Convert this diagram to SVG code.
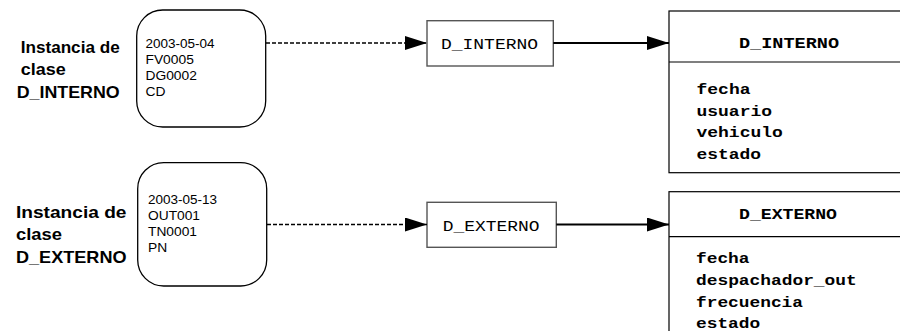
<svg xmlns="http://www.w3.org/2000/svg" width="900" height="331" viewBox="0 0 900 331">
<style>
.lbl{font-family:"Liberation Sans",Arial,sans-serif;font-weight:bold;font-size:16.5px;fill:#000}
.val{font-family:"Liberation Sans",Arial,sans-serif;font-size:12.5px;fill:#000}
.mono{font-family:"Liberation Mono","Courier New",monospace;font-size:15px;fill:#000}
.monob{font-family:"Liberation Mono","Courier New",monospace;font-size:15px;font-weight:bold;fill:#000}
.inst{fill:#fff;stroke:#000;stroke-width:1.3}
.obj{fill:#fff;stroke:#555;stroke-width:1.4}
.cls{fill:#fff;stroke:#000;stroke-width:1.2}
.dash{stroke:#000;stroke-width:1.4;stroke-dasharray:4 2;fill:none}
.solid{stroke:#000;stroke-width:1.8;fill:none}
</style>
<defs>
<marker id="arr" markerUnits="userSpaceOnUse" markerWidth="22" markerHeight="14" refX="22" refY="7" orient="auto">
<path d="M0,0 L22,7 L0,14 z" fill="#000"/>
</marker>
</defs>

<g id="label1">
<text class="lbl" x="20.7" y="52.5" textLength="99" lengthAdjust="spacingAndGlyphs">Instancia de</text>
<text class="lbl" x="20.7" y="75" textLength="45" lengthAdjust="spacingAndGlyphs">clase</text>
<text class="lbl" x="16.7" y="97.5" textLength="103" lengthAdjust="spacingAndGlyphs">D_INTERNO</text>
</g>

<g id="label2">
<text class="lbl" x="16" y="217.5" textLength="110.5" lengthAdjust="spacingAndGlyphs">Instancia  de</text>
<text class="lbl" x="16" y="240" textLength="46" lengthAdjust="spacingAndGlyphs">clase</text>
<text class="lbl" x="16" y="262.5" textLength="110.5" lengthAdjust="spacingAndGlyphs">D_EXTERNO</text>
</g>

<g id="instance1">
<rect class="inst" x="136.7" y="10" width="129" height="117" rx="26" ry="26"/>
<text class="val" x="145.5" y="48" textLength="69" lengthAdjust="spacingAndGlyphs">2003-05-04</text>
<text class="val" x="145.5" y="64" textLength="48.3" lengthAdjust="spacingAndGlyphs">FV0005</text>
<text class="val" x="145.5" y="80" textLength="51.4" lengthAdjust="spacingAndGlyphs">DG0002</text>
<text class="val" x="145.5" y="96" textLength="20" lengthAdjust="spacingAndGlyphs">CD</text>
</g>

<g id="instance2">
<rect class="inst" x="137.7" y="162.7" width="129" height="123.3" rx="26" ry="26"/>
<text class="val" x="148" y="203.5" textLength="69" lengthAdjust="spacingAndGlyphs">2003-05-13</text>
<text class="val" x="148" y="219.5" textLength="52" lengthAdjust="spacingAndGlyphs">OUT001</text>
<text class="val" x="148" y="235.5" textLength="49" lengthAdjust="spacingAndGlyphs">TN0001</text>
<text class="val" x="148" y="251.5" textLength="19.2" lengthAdjust="spacingAndGlyphs">PN</text>
</g>

<g id="object1">
<rect class="obj" x="427" y="20.7" width="126.3" height="45.3"/>
<text class="mono" x="441" y="49" textLength="97" lengthAdjust="spacingAndGlyphs">D_INTERNO</text>
</g>

<g id="object2">
<rect class="obj" x="427" y="202.3" width="129.3" height="45"/>
<text class="mono" x="442.7" y="231" textLength="96.7" lengthAdjust="spacingAndGlyphs">D_EXTERNO</text>
</g>

<g id="class1">
<rect class="cls" x="669" y="11" width="240" height="161.7"/>
<line x1="669" y1="62" x2="909" y2="62" stroke="#000" stroke-width="1.2"/>
<text class="monob" x="739" y="47.5" textLength="100" lengthAdjust="spacingAndGlyphs">D_INTERNO</text>
<text class="monob" x="696.5" y="94" textLength="54" lengthAdjust="spacingAndGlyphs">fecha</text>
<text class="monob" x="696.5" y="115.7" textLength="75.5" lengthAdjust="spacingAndGlyphs">usuario</text>
<text class="monob" x="696.5" y="137.3" textLength="86.3" lengthAdjust="spacingAndGlyphs">vehiculo</text>
<text class="monob" x="696.5" y="159" textLength="64.5" lengthAdjust="spacingAndGlyphs">estado</text>
</g>

<g id="class2">
<rect class="cls" x="669" y="191.7" width="240" height="160"/>
<line x1="669" y1="236.7" x2="909" y2="236.7" stroke="#000" stroke-width="1.2"/>
<text class="monob" x="739" y="218.5" textLength="98" lengthAdjust="spacingAndGlyphs">D_EXTERNO</text>
<text class="monob" x="696" y="263.3" textLength="53.5" lengthAdjust="spacingAndGlyphs">fecha</text>
<text class="monob" x="696" y="285" textLength="160.7" lengthAdjust="spacingAndGlyphs">despachador_out</text>
<text class="monob" x="696" y="306.7" textLength="107" lengthAdjust="spacingAndGlyphs">frecuencia</text>
<text class="monob" x="696" y="327.5" textLength="64.2" lengthAdjust="spacingAndGlyphs">estado</text>
</g>

<g id="connectors">
<line class="dash" x1="266" y1="43" x2="427" y2="43" marker-end="url(#arr)"/>
<line class="solid" x1="553.3" y1="43" x2="669" y2="43" marker-end="url(#arr)"/>
<line class="dash" x1="267" y1="224.5" x2="427" y2="224.5" marker-end="url(#arr)"/>
<line class="solid" x1="556.3" y1="224.5" x2="669" y2="224.5" marker-end="url(#arr)"/>
</g>
</svg>
